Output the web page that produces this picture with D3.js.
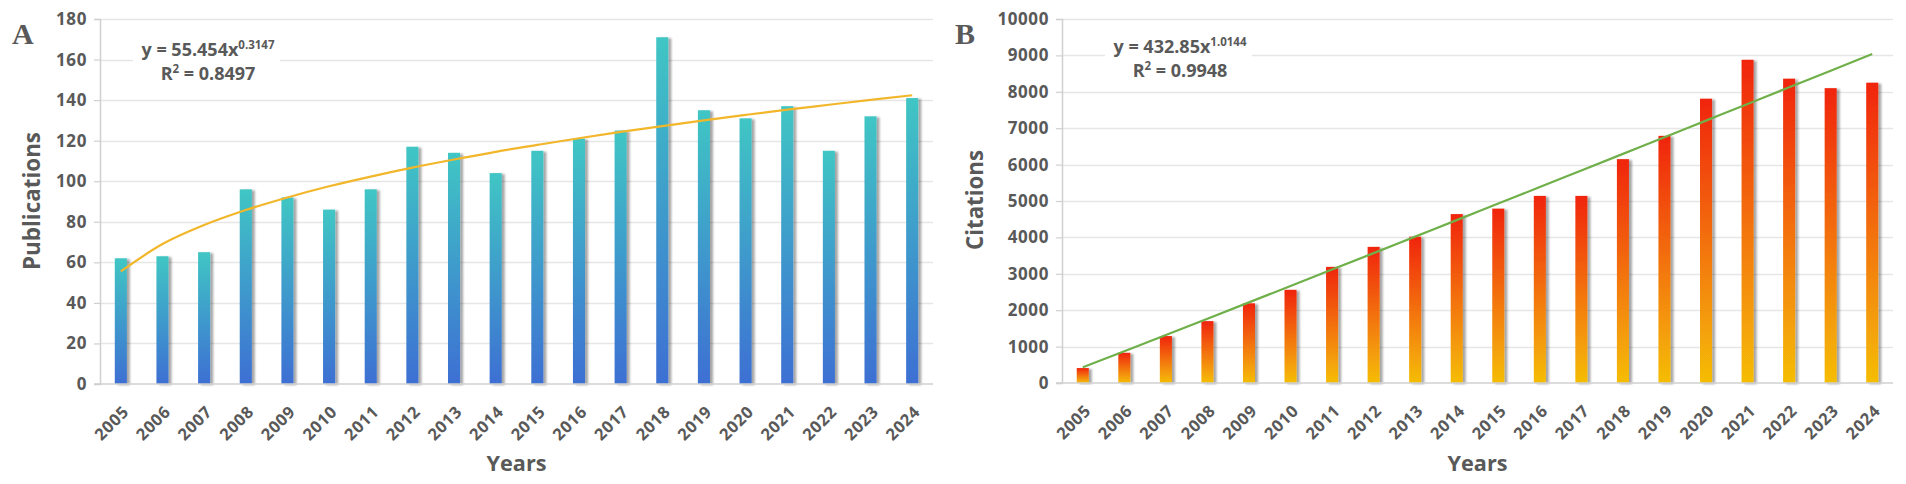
<!DOCTYPE html>
<html>
<head>
<meta charset="utf-8">
<script src="https://cdn.jsdelivr.net/npm/d3@7"></script>
<style>
  body { margin: 0; background: #fff; }
  svg text { font-family: "Open Sans", "DejaVu Sans", sans-serif; font-weight: 700; fill: #595959; }
</style>
</head>
<body>
<div id="chart"></div>
<script>
(function(d3) {
    'use strict';

    // Data
    var years = ['2005', '2006', '2007', '2008', '2009', '2010', '2011', '2012', '2013', '2014',
                 '2015', '2016', '2017', '2018', '2019', '2020', '2021', '2022', '2023', '2024'];

    var publications = [62, 63, 65, 96, 92, 86, 96, 117, 114, 104,
                        115, 121, 125, 171, 135, 131, 137, 115, 132, 141];

    // power trend line shown in panel A (y = 55.454x^0.3147)
    var publicationsTrend = [55.5, 69.0, 78.4, 85.8, 92.0, 97.5, 102.3, 106.7, 110.7, 114.5,
                             117.9, 121.2, 124.3, 127.2, 130.0, 132.7, 135.3, 137.7, 140.1, 142.4];

    var citations = [410, 830, 1290, 1700, 2190, 2560, 3190, 3740, 4020, 4640,
                     4790, 5140, 5140, 6150, 6790, 7810, 8880, 8360, 8100, 8250];

    // power trend line shown in panel B (y = 432.85x^1.0144)
    var citationsTrend = [433, 874, 1319, 1766, 2215, 2665, 3116, 3568, 4021, 4474,
                          4929, 5383, 5839, 6295, 6751, 7208, 7665, 8123, 8580, 9039];

    var pubTicks = [0, 20, 40, 60, 80, 100, 120, 140, 160, 180];
    var citTicks = [0, 1000, 2000, 3000, 4000, 5000, 6000, 7000, 8000, 9000, 10000];

    var svg = d3.select('#chart').append('svg')
        .attr('width', 1906)
        .attr('height', 484);

    var defs = svg.append('defs');

    // soft shadow to the right of each bar
    var shadow = defs.append('filter')
        .attr('id', 'barShadow')
        .attr('x', '-50%').attr('y', '-10%')
        .attr('width', '200%').attr('height', '120%');
    shadow.append('feDropShadow')
        .attr('dx', 3).attr('dy', 1)
        .attr('stdDeviation', 1.2)
        .attr('flood-color', '#000')
        .attr('flood-opacity', 0.35);

    function gradient(id, top, bottom) {
        var g = defs.append('linearGradient')
            .attr('id', id)
            .attr('x1', 0).attr('y1', 0)
            .attr('x2', 0).attr('y2', 1);
        g.append('stop').attr('offset', '0%').attr('stop-color', top);
        g.append('stop').attr('offset', '100%').attr('stop-color', bottom);
    }
    gradient('gradA', '#3fc6c4', '#3e6fd3');
    gradient('gradB', '#f0240c', '#f5bd06');

    var panel = function(cfg) {
        var x = d3.scaleBand()
            .domain(years)
            .range([cfg.left, cfg.right])
            .paddingInner(0.71)
            .paddingOuter(0.355);

        var y = d3.scaleLinear()
            .domain([0, cfg.max])
            .range([cfg.bottom, cfg.top]);

        var g = svg.append('g');

        // Gridlines
        g.append('g')
            .selectAll('line')
            .data(cfg.ticks.slice(1))
            .enter().append('line')
            .attr('x1', cfg.left)
            .attr('x2', cfg.right)
            .attr('y1', function(d) { return Math.round(y(d)) + 0.5; })
            .attr('y2', function(d) { return Math.round(y(d)) + 0.5; })
            .attr('stroke', '#e6e6e6')
            .attr('stroke-width', 1.5);

        // White box behind the equation
        g.append('rect')
            .attr('x', cfg.eqBox[0])
            .attr('y', cfg.eqBox[1])
            .attr('width', cfg.eqBox[2])
            .attr('height', cfg.eqBox[3])
            .attr('fill', '#fff');

        // Bars
        g.append('g')
            .selectAll('rect')
            .data(cfg.values)
            .enter().append('rect')
            .attr('x', function(d, i) { return x(years[i]); })
            .attr('y', function(d) { return y(d); })
            .attr('width', x.bandwidth())
            .attr('height', function(d) { return y(0) - y(d); })
            .attr('fill', 'url(#' + cfg.gradient + ')')
            .attr('filter', 'url(#barShadow)');

        // Axes
        var yAxis = d3.axisLeft(y)
            .tickValues(cfg.ticks)
            .tickSize(6)
            .tickPadding(7)
            .tickFormat(d3.format('d'));
        var ya = g.append('g')
            .attr('transform', 'translate(' + cfg.left + ',0)')
            .call(yAxis);
        ya.select('.domain').attr('stroke', '#d0d0d0').attr('stroke-width', 1.5);
        ya.selectAll('.tick line').attr('stroke', '#d0d0d0').attr('stroke-width', 1.2);
        ya.selectAll('.tick text')
            .style('font-size', '17px')
            .style('letter-spacing', '0.6px')
            .attr('fill', '#595959');

        var xAxis = d3.axisBottom(x)
            .tickSize(0)
            .tickFormat('');
        g.append('g')
            .attr('transform', 'translate(0,' + y(0) + ')')
            .call(xAxis)
            .select('.domain')
            .attr('stroke', '#d0d0d0')
            .attr('stroke-width', 1.5)
            .attr('d', 'M' + (cfg.left - 6) + ',0H' + cfg.right);

        // Rotated year labels
        g.append('g')
            .selectAll('text')
            .data(years)
            .enter().append('text')
            .attr('text-anchor', 'end')
            .attr('transform', function(d) {
                var cx = x(d) + x.bandwidth() / 2 + 9;
                return 'translate(' + cx + ',' + (y(0) + 29) + ') rotate(-45)';
            })
            .style('font-size', '16.5px')
            .style('letter-spacing', '0.6px')
            .text(function(d) { return d; });

        // Trend line
        var line = d3.line()
            .x(function(d, i) { return x(years[i]) + x.bandwidth() / 2; })
            .y(function(d) { return y(d); })
            .curve(d3.curveMonotoneX);
        g.append('path')
            .datum(cfg.trend)
            .attr('d', line)
            .attr('fill', 'none')
            .attr('stroke', cfg.trendColor)
            .attr('stroke-width', 2.2);

        // Equation
        var eq = g.append('text')
            .attr('x', cfg.eqPos[0])
            .attr('y', cfg.eqPos[1])
            .attr('text-anchor', 'middle')
            .style('font-size', '18px');
        eq.append('tspan').text(cfg.eqMain);
        eq.append('tspan')
            .attr('dy', -7)
            .style('font-size', '11.5px')
            .text(cfg.eqExp);

        var r2 = g.append('text')
            .attr('x', cfg.eqPos[0])
            .attr('y', cfg.eqPos[1] + 24)
            .attr('text-anchor', 'middle')
            .style('font-size', '18px');
        r2.append('tspan').text('R');
        r2.append('tspan').attr('dy', -7).style('font-size', '11.5px').text('2');
        r2.append('tspan').attr('dy', 7).text(' = ' + cfg.r2);

        // Axis titles
        g.append('text')
            .attr('transform', 'translate(' + cfg.yTitleX + ',' + cfg.yTitleY + ') rotate(-90)')
            .attr('text-anchor', 'middle')
            .attr('dy', '0.35em')
            .attr('textLength', cfg.yTitleLen)
            .attr('lengthAdjust', 'spacingAndGlyphs')
            .style('font-size', '23px')
            .text(cfg.yTitle);

        g.append('text')
            .attr('x', (cfg.left + cfg.right) / 2)
            .attr('y', 471)
            .attr('text-anchor', 'middle')
            .attr('textLength', 60)
            .attr('lengthAdjust', 'spacingAndGlyphs')
            .style('font-size', '22px')
            .text('Years');

        // Panel letter
        svg.append('text')
            .attr('x', cfg.letterX)
            .attr('y', 44)
            .style('font-family', '"Liberation Serif", "Times New Roman", serif')
            .style('font-weight', '700')
            .style('font-size', '30px')
            .attr('fill', '#111')
            .text(cfg.letter);
    };

    panel({
        left: 100, right: 933, top: 19, bottom: 384,
        max: 180, ticks: pubTicks,
        values: publications, trend: publicationsTrend,
        gradient: 'gradA', trendColor: '#f2b62a',
        eqBox: [133, 34, 147, 52], eqPos: [208, 56],
        eqMain: 'y = 55.454x', eqExp: '0.3147', r2: '0.8497',
        yTitle: 'Publications', yTitleX: 32, yTitleY: 201, yTitleLen: 138,
        letter: 'A', letterX: 12
    });

    panel({
        left: 1062, right: 1893, top: 19, bottom: 383,
        max: 10000, ticks: citTicks,
        values: citations, trend: citationsTrend,
        gradient: 'gradB', trendColor: '#6fb04a',
        eqBox: [1105, 31, 147, 52], eqPos: [1180, 53],
        eqMain: 'y = 432.85x', eqExp: '1.0144', r2: '0.9948',
        yTitle: 'Citations', yTitleX: 975, yTitleY: 200, yTitleLen: 100,
        letter: 'B', letterX: 955
    });
}(d3));
</script>
</body>
</html>
